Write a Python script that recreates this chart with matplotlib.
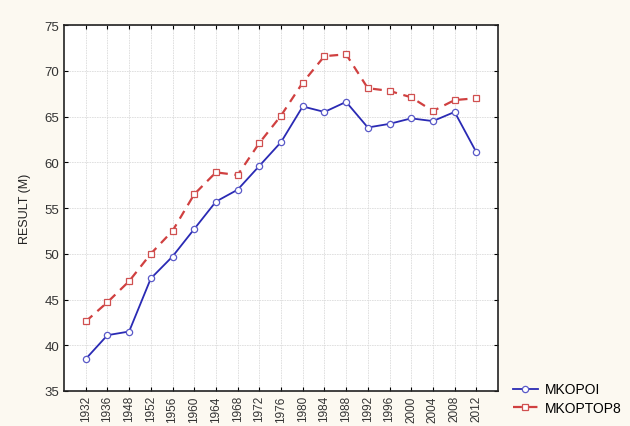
import matplotlib
matplotlib.use("Agg")
import matplotlib.pyplot as plt

plt.rcParams['font.family'] = ['Liberation Sans', 'DejaVu Sans']

years = ['1932', '1936', '1948', '1952', '1956', '1960', '1964', '1968', '1972', '1976',
         '1980', '1984', '1988', '1992', '1996', '2000', '2004', '2008', '2012']
mkopoi = [38.5, 41.1, 41.5, 47.3, 49.7, 52.7, 55.7, 57.0, 59.6, 62.2,
          66.1, 65.5, 66.6, 63.8, 64.2, 64.8, 64.5, 65.5, 61.1]
mkoptop8 = [42.6, 44.7, 47.0, 50.0, 52.5, 56.5, 58.9, 58.6, 62.1, 65.1,
            68.7, 71.6, 71.8, 68.1, 67.8, 67.1, 65.6, 66.8, 67.0]

fig = plt.figure(figsize=(6.3, 4.27), dpi=100, facecolor='#fcf9f1')
ax = fig.add_axes([0.1016, 0.082, 0.6889, 0.857])
ax.set_facecolor('white')

x = list(range(len(years)))
ax.plot(x, mkopoi, color='#2a2ab4', lw=1.3, marker='o', ms=4.5,
        mfc='white', mec='#5a5ac8', mew=0.9, label='MKOPOI')
ax.plot(x, mkoptop8, color='#d04040', lw=1.6, ls=(0, (4, 3)), marker='s', ms=5,
        mfc='white', mec='#d05050', mew=0.9, label='MKOPTOP8')

ax.set_xlim(-1, 19)
ax.set_ylim(35, 75)
ax.set_xticks(x)
ax.set_xticklabels(years, rotation=90, fontsize=8.5, color='#333333')
ax.set_yticks(range(35, 80, 5))
ax.tick_params(axis='y', labelsize=9.5, labelcolor='#333333')
ax.tick_params(direction='in', length=3, width=0.8, top=True, right=True)
ax.tick_params(axis='x', pad=3)
ax.grid(True, color='#dcdcdc', lw=0.6, ls=(0, (2, 1)))
ax.set_axisbelow(True)
for s in ax.spines.values():
    s.set_linewidth(1.2)
    s.set_color('#222222')

ax.set_ylabel('RESULT (M)', fontsize=9, color='#222222', labelpad=10)

fig.legend(loc='lower left', bbox_to_anchor=(0.805, 0.012), frameon=False,
           fontsize=10, handlelength=1.8, handletextpad=0.5, labelspacing=0.35,
           borderaxespad=0)

fig.savefig('out.png', dpi=100, facecolor=fig.get_facecolor())
